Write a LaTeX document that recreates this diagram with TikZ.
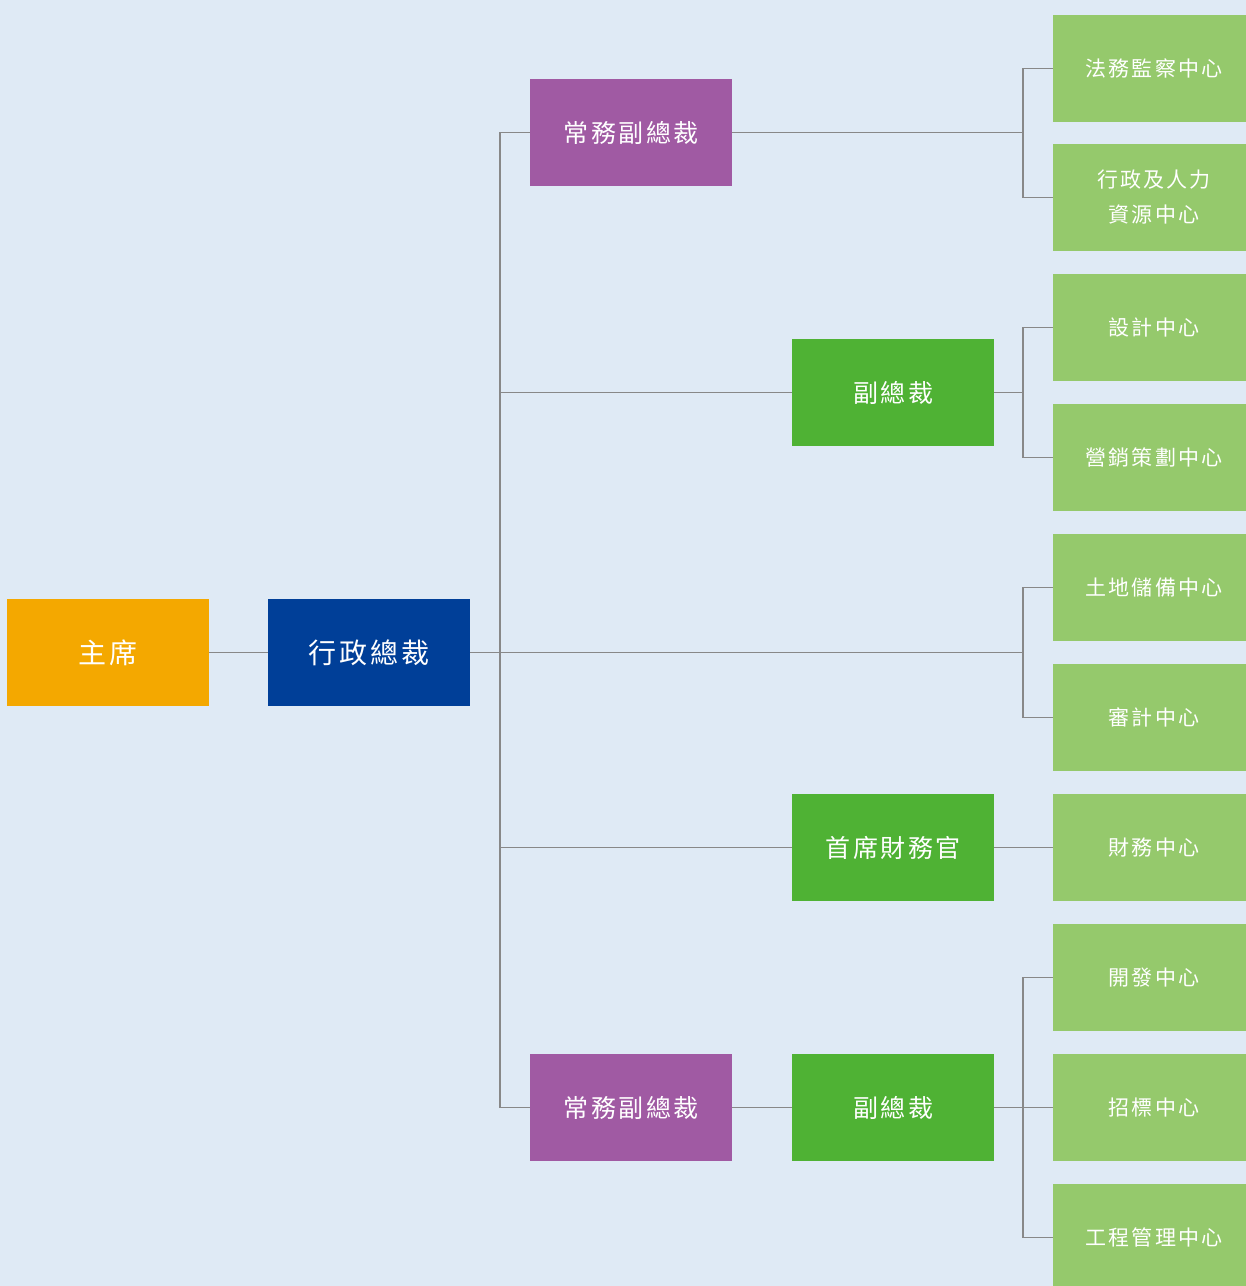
\documentclass[tikz,border=0pt]{standalone}
\usepackage{fontspec}
\usepackage{xcolor}
\usepackage{tikz}
\newfontfamily\cjkfont[LetterSpace=10]{Noto Sans CJK TC}
\definecolor{bgblue}{HTML}{DFEAF5}
\definecolor{chairorange}{HTML}{F4A800}
\definecolor{ceoblue}{HTML}{003F98}
\definecolor{evppurple}{HTML}{A05AA3}
\definecolor{vpgreen}{HTML}{4FB234}
\definecolor{centregreen}{HTML}{95C96C}
\definecolor{linegray}{HTML}{888888}
\tikzset{
  box/.style={minimum width=202pt,minimum height=107pt,inner sep=0pt,text=white,align=center},
  topbox/.style={box,font=\cjkfont\fontsize{28}{34}\selectfont},
  midbox/.style={box,font=\cjkfont\fontsize{25}{30}\selectfont},
  centrebox/.style={box,fill=centregreen,font=\cjkfont\fontsize{21}{35}\selectfont},
  link/.style={draw=linegray,line width=1.3pt}
}

\begin{document}
\begin{tikzpicture}[x=1pt,y=-1pt]
            \useasboundingbox (0,0) rectangle (1246,1286);
            \clip (0,0) rectangle (1246,1286);
            \fill[bgblue] (0,0) rectangle (1246,1286);
            % left side
            \node[topbox,fill=chairorange] (chair) at (108,652.5) {主席};
            \node[topbox,fill=ceoblue] (ceo) at (369,652.5) {行政總裁};
            % second and third level
            \node[midbox,fill=evppurple] (evpA) at (631,132.5) {常務副總裁};
            \node[midbox,fill=vpgreen] (vpA) at (893,392.5) {副總裁};
            \node[midbox,fill=vpgreen] (cfo) at (893,847.5) {首席財務官};
            \node[midbox,fill=evppurple] (evpB) at (631,1107.5) {常務副總裁};
            \node[midbox,fill=vpgreen] (vpB) at (893,1107.5) {副總裁};
            % centres
            \node[centrebox] (legal) at (1154,68.5) {法務監察中心};
            \node[centrebox] (hr) at (1154,197.5) {行政及人力\\資源中心};
            \node[centrebox] (design) at (1154,327.5) {設計中心};
            \node[centrebox] (marketing) at (1154,457.5) {營銷策劃中心};
            \node[centrebox] (land) at (1154,587.5) {土地儲備中心};
            \node[centrebox] (audit) at (1154,717.5) {審計中心};
            \node[centrebox] (finance) at (1154,847.5) {財務中心};
            \node[centrebox] (devel) at (1154,977.5) {開發中心};
            \node[centrebox] (tender) at (1154,1107.5) {招標中心};
            \node[centrebox] (works) at (1154,1237.5) {工程管理中心};
            % branch points
            \coordinate (trunk) at (500,652.5);
            \coordinate (brA) at (1023,132.5);
            \coordinate (brB) at (1023,392.5);
            \coordinate (brC) at (1023,652.5);
            \coordinate (brD) at (1023,1107.5);
            % connectors
            \draw[link] (chair.east) -- (ceo.west);
            \draw[link] (ceo.east) -- (brC);
            \draw[link] (evpA.west) -| (trunk) |- (evpB.west);
            \draw[link] (trunk |- vpA) -- (vpA.west);
            \draw[link] (trunk |- cfo) -- (cfo.west);
            \draw[link] (evpA.east) -- (brA);
            \draw[link] (legal.west) -| (brA) |- (hr.west);
            \draw[link] (vpA.east) -- (brB);
            \draw[link] (design.west) -| (brB) |- (marketing.west);
            \draw[link] (land.west) -| (brC) |- (audit.west);
            \draw[link] (cfo.east) -- (finance.west);
            \draw[link] (evpB.east) -- (vpB.west);
            \draw[link] (vpB.east) -- (brD) -- (tender.west);
            \draw[link] (devel.west) -| (brD) |- (works.west);
        \end{tikzpicture}
\end{document}
